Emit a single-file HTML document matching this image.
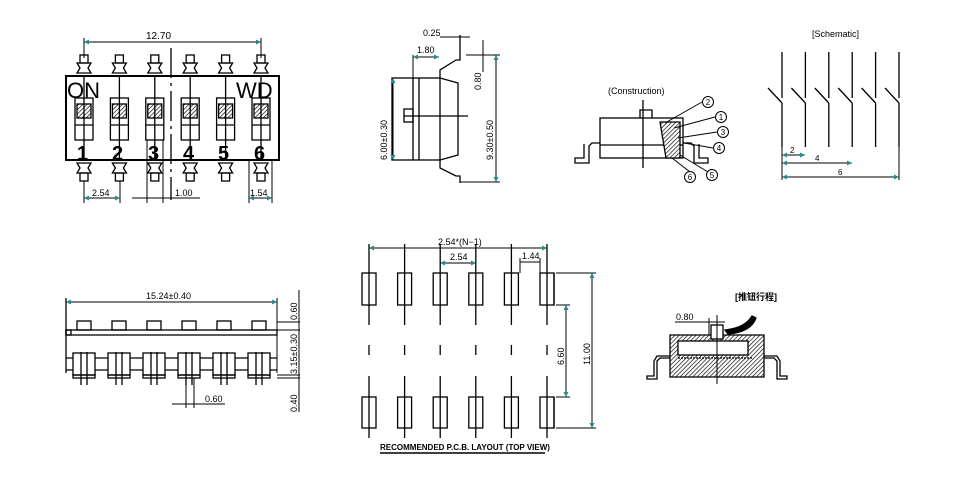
<!DOCTYPE html><html><head><style>body{margin:0;background:#fff}svg{display:block}text{font-family:"Liberation Sans Narrow","Liberation Sans",sans-serif;fill:#000}</style></head><body>
<svg width="960" height="488" viewBox="0 0 960 488" xmlns="http://www.w3.org/2000/svg">
<defs>
<pattern id="h" width="3" height="3" patternUnits="userSpaceOnUse" patternTransform="rotate(45)"><rect width="3" height="3" fill="#fff"/><line x1="0" y1="0" x2="0" y2="3" stroke="#000" stroke-width="1.3"/></pattern>
<marker id="a" viewBox="0 0 6 6" refX="6" refY="3" markerWidth="5" markerHeight="5" orient="auto-start-reverse"><path d="M0,0L6,3L0,6z" fill="#2a8a8a"/></marker>
</defs>
<g stroke="#000" fill="none" stroke-width="1.3">
<!-- TOP LEFT -->
<line x1="84" y1="42" x2="261" y2="42" stroke-width="1" marker-start="url(#a)" marker-end="url(#a)"/>
<line x1="84" y1="38" x2="84" y2="58" stroke-width="1"/><line x1="261" y1="38" x2="261" y2="58" stroke-width="1"/>
<rect x="66" y="76" width="213" height="84" stroke-width="2"/>
<line x1="171" y1="48" x2="171" y2="200" stroke-dasharray="30 5 3 5"/>
<g id="p">
<rect x="80" y="55" width="8" height="8"/>
<path d="M77,63h14l-3,5 3,5h-14l3,-5z"/>
<path d="M77,163h14l-3,5 3,5h-14l3,-5z"/>
<rect x="80" y="173" width="8" height="8"/>
<rect x="75" y="98" width="18" height="42"/>
<rect x="77" y="104" width="14" height="14" fill="url(#h)"/>
<line x1="75" y1="125" x2="93" y2="125"/><line x1="84" y1="76" x2="84" y2="160"/>
</g>
<use href="#p" x="35.4"/><use href="#p" x="70.8"/><use href="#p" x="106.2"/><use href="#p" x="141.6"/><use href="#p" x="177"/>
<line x1="84" y1="181" x2="84" y2="203" stroke-width="1"/><line x1="120" y1="181" x2="120" y2="203" stroke-width="1"/>
<line x1="84" y1="198" x2="120" y2="198" stroke-width="1" marker-start="url(#a)" marker-end="url(#a)"/>
<line x1="147" y1="140" x2="147" y2="203" stroke-width="1"/><line x1="163" y1="140" x2="163" y2="203" stroke-width="1"/>
<line x1="132" y1="198" x2="200" y2="198" stroke-width="1"/>
<line x1="249" y1="160" x2="249" y2="203" stroke-width="1"/><line x1="272" y1="160" x2="272" y2="203" stroke-width="1"/>
<line x1="249" y1="198" x2="272" y2="198" stroke-width="1" marker-start="url(#a)" marker-end="url(#a)"/>
<!-- SIDE VIEW -->
<rect x="392" y="78" width="48" height="82"/>
<path d="M440,78L458,83V155L440,160"/>
<line x1="413" y1="78" x2="413" y2="160"/><line x1="419" y1="78" x2="419" y2="160"/>
<rect x="404" y="109" width="9" height="13"/><line x1="404" y1="116" x2="468" y2="116"/>
<path d="M440,78V70l16,-10h4V35"/><path d="M440,160v8l16,8h4v7"/>
<line x1="460" y1="182" x2="500" y2="182" stroke-width="1"/><line x1="466" y1="55" x2="500" y2="55" stroke-width="1"/>
<line x1="496" y1="55" x2="496" y2="182" stroke-width="1" marker-start="url(#a)" marker-end="url(#a)"/>
<line x1="393" y1="78" x2="393" y2="160" stroke-width="1" marker-start="url(#a)" marker-end="url(#a)"/>
<line x1="483" y1="40" x2="483" y2="72" stroke-width="1"/>
<line x1="413" y1="57" x2="439" y2="57" stroke-width="1" marker-start="url(#a)" marker-end="url(#a)"/>
<line x1="413" y1="55" x2="413" y2="78" stroke-width="1"/>
<line x1="440" y1="37" x2="470" y2="37" stroke-width="1"/>
<!-- CONSTRUCTION -->
<rect x="600" y="118" width="83" height="40"/><line x1="600" y1="145" x2="683" y2="145"/>
<path d="M640,118v-8h12v8"/><line x1="643" y1="100" x2="643" y2="168"/>
<path d="M600,143h-8l-3,3v17h-14v-5h9v-14"/><path d="M683,143h8l3,3v17h14v-5h-9v-14"/>
<path d="M660,122h20v36h-14z" fill="url(#h)"/>
<g stroke-width="1"><line x1="665" y1="123" x2="702" y2="102"/><line x1="674" y1="128" x2="715" y2="117"/><line x1="678" y1="138" x2="717" y2="132"/><line x1="684" y1="143" x2="713" y2="148"/><line x1="672" y1="158" x2="690" y2="172"/><line x1="680" y1="155" x2="708" y2="172"/>
<circle cx="708" cy="102" r="5.5"/><circle cx="721" cy="117" r="5.5"/><circle cx="723" cy="132" r="5.5"/><circle cx="719" cy="148" r="5.5"/><circle cx="690" cy="177" r="5.5"/><circle cx="712" cy="175" r="5.5"/></g>
<!-- SCHEMATIC -->
<g id="s"><line x1="782" y1="52" x2="782" y2="98"/><line x1="768" y1="88" x2="782" y2="103"/><line x1="782" y1="103" x2="782" y2="147"/></g>
<use href="#s" x="23.4"/><use href="#s" x="46.8"/><use href="#s" x="70.2"/><use href="#s" x="93.6"/><use href="#s" x="117"/>
<line x1="782" y1="147" x2="782" y2="180" stroke-width="1"/><line x1="899" y1="147" x2="899" y2="180" stroke-width="1"/>
<line x1="782" y1="155" x2="805" y2="155" stroke-width="1" marker-start="url(#a)" marker-end="url(#a)"/>
<line x1="782" y1="163" x2="852" y2="163" stroke-width="1" marker-start="url(#a)" marker-end="url(#a)"/>
<line x1="782" y1="177" x2="899" y2="177" stroke-width="1" marker-start="url(#a)" marker-end="url(#a)"/>
<!-- BOTTOM LEFT -->
<line x1="66" y1="302" x2="277" y2="302" stroke-width="1" marker-start="url(#a)" marker-end="url(#a)"/>
<line x1="66" y1="298" x2="66" y2="373"/><line x1="277" y1="298" x2="277" y2="373" stroke-width="1"/>
<rect x="66" y="330" width="211" height="5"/><rect x="66" y="330" width="5" height="5"/>
<line x1="66" y1="358" x2="277" y2="358"/><line x1="66" y1="370" x2="277" y2="370"/>
<line x1="277" y1="322" x2="300" y2="322" stroke-width="1"/><line x1="277" y1="330" x2="300" y2="330" stroke-width="1"/><line x1="277" y1="375" x2="300" y2="375" stroke-width="1"/><line x1="277" y1="378" x2="300" y2="378" stroke-width="1"/>
<line x1="299" y1="290" x2="299" y2="412" stroke-width="1"/>
<g id="b"><rect x="77" y="321" width="14" height="9"/><rect x="73" y="353" width="22" height="22" fill="#fff"/><rect x="73" y="375" width="22" height="3"/><line x1="81" y1="352" x2="81" y2="385"/><line x1="87" y1="352" x2="87" y2="385"/></g>
<use href="#b" x="35"/><use href="#b" x="70"/><use href="#b" x="105"/><use href="#b" x="140"/><use href="#b" x="175"/>
<line x1="186" y1="378" x2="186" y2="408" stroke-width="1"/><line x1="194" y1="378" x2="194" y2="408" stroke-width="1"/>
<line x1="172" y1="404" x2="225" y2="404" stroke-width="1"/>
<!-- PCB -->
<line x1="369" y1="248" x2="547" y2="248" stroke-width="1" marker-start="url(#a)" marker-end="url(#a)"/>
<line x1="440" y1="263" x2="476" y2="263" stroke-width="1" marker-start="url(#a)" marker-end="url(#a)"/>
<line x1="520" y1="262" x2="540" y2="262" stroke-width="1"/>
<line x1="520" y1="258" x2="520" y2="273" stroke-width="1"/><line x1="540" y1="258" x2="540" y2="273" stroke-width="1"/>
<g id="q"><rect x="362" y="273" width="14" height="32"/><rect x="362" y="397" width="14" height="31"/><line x1="369" y1="244" x2="369" y2="325"/><line x1="369" y1="345" x2="369" y2="355"/><line x1="369" y1="376" x2="369" y2="438"/></g>
<use href="#q" x="35.6"/><use href="#q" x="71.2"/><use href="#q" x="106.8"/><use href="#q" x="142.4"/><use href="#q" x="178"/>
<line x1="554" y1="273" x2="554" y2="305"/><line x1="554" y1="397" x2="554" y2="428"/>
<line x1="556" y1="273" x2="596" y2="273" stroke-width="1"/><line x1="556" y1="428" x2="596" y2="428" stroke-width="1"/>
<line x1="556" y1="305" x2="570" y2="305" stroke-width="1"/><line x1="556" y1="397" x2="570" y2="397" stroke-width="1"/>
<line x1="592" y1="273" x2="592" y2="428" stroke-width="1" marker-start="url(#a)" marker-end="url(#a)"/>
<line x1="566" y1="305" x2="566" y2="397" stroke-width="1" marker-start="url(#a)" marker-end="url(#a)"/>
<line x1="380" y1="453" x2="545" y2="453" stroke-width="1.5"/>
<!-- BOTTOM RIGHT -->
<path d="M670,335h94v42h-94z" fill="url(#h)"/>
<rect x="678" y="341" width="70" height="14" fill="#fff"/>
<line x1="678" y1="358" x2="752" y2="358" stroke-dasharray="2 1"/>
<rect x="711" y="325" width="12" height="14" fill="#fff"/>
<line x1="717" y1="315" x2="717" y2="384" stroke-width="1"/><line x1="709" y1="318" x2="709" y2="335" stroke-width="1"/>
<line x1="675" y1="322" x2="725" y2="322" stroke-width="1"/>
<path d="M670,358h-10l-3,3v18h-10v-3h7v-15l3,-5h13"/><path d="M764,358h10l3,3v18h10v-3h-7v-15l-3,-5h-13"/>
<path d="M725,330q20,-2 27,-14l4,2q-5,14 -28,16z" fill="#000"/>
</g>
<g font-size="10">
<text x="146" y="39">12.70</text>
<text x="92" y="196" font-size="9">2.54</text><text x="175" y="196" font-size="9">1.00</text><text x="250" y="196" font-size="9">1.54</text>
<text x="67" y="98" font-size="22">ON</text><text x="236" y="98" font-size="22">WD</text>
<g font-size="20" font-weight="bold"><text x="77" y="160">1</text><text x="112" y="160">2</text><text x="148" y="160">3</text><text x="183" y="160">4</text><text x="218" y="160">5</text><text x="254" y="160">6</text></g>
<text x="423" y="36" font-size="9">0.25</text><text x="417" y="53" font-size="9">1.80</text>
<text transform="translate(387,160) rotate(-90)" font-size="9">6.00±0.30</text>
<text transform="translate(481,90) rotate(-90)" font-size="9">0.80</text>
<text transform="translate(493,160) rotate(-90)" font-size="9">9.30±0.50</text>
<text x="608" y="94" font-size="9">(Construction)</text>
<g font-size="8" text-anchor="middle"><text x="708" y="105">2</text><text x="721" y="120">1</text><text x="723" y="135">3</text><text x="719" y="151">4</text><text x="690" y="180">6</text><text x="712" y="178">5</text></g>
<text x="812" y="37" font-size="9">[Schematic]</text>
<text x="790" y="153" font-size="8">2</text><text x="815" y="161" font-size="8">4</text><text x="838" y="175" font-size="8">6</text>
<text x="146" y="299" font-size="9">15.24±0.40</text>
<text transform="translate(297,320) rotate(-90)" font-size="9">0.60</text>
<text transform="translate(297,374) rotate(-90)" font-size="9">3.15±0.30</text>
<text transform="translate(297,412) rotate(-90)" font-size="9">0.40</text>
<text x="205" y="402" font-size="9">0.60</text>
<text x="438" y="245" font-size="9">2.54*(N−1)</text><text x="450" y="260" font-size="9">2.54</text><text x="522" y="259" font-size="9">1.44</text>
<text transform="translate(564,365) rotate(-90)" font-size="9">6.60</text>
<text transform="translate(590,365) rotate(-90)" font-size="9">11.00</text>
<text x="380" y="450" font-size="8" font-weight="bold">RECOMMENDED P.C.B. LAYOUT (TOP VIEW)</text>
<text x="676" y="320" font-size="9">0.80</text>
<text x="735" y="300" font-size="9" font-weight="bold" style="font-family:'Liberation Sans','Noto Sans CJK SC',sans-serif">[推钮行程]</text>
</g>
</svg>
</body></html>
